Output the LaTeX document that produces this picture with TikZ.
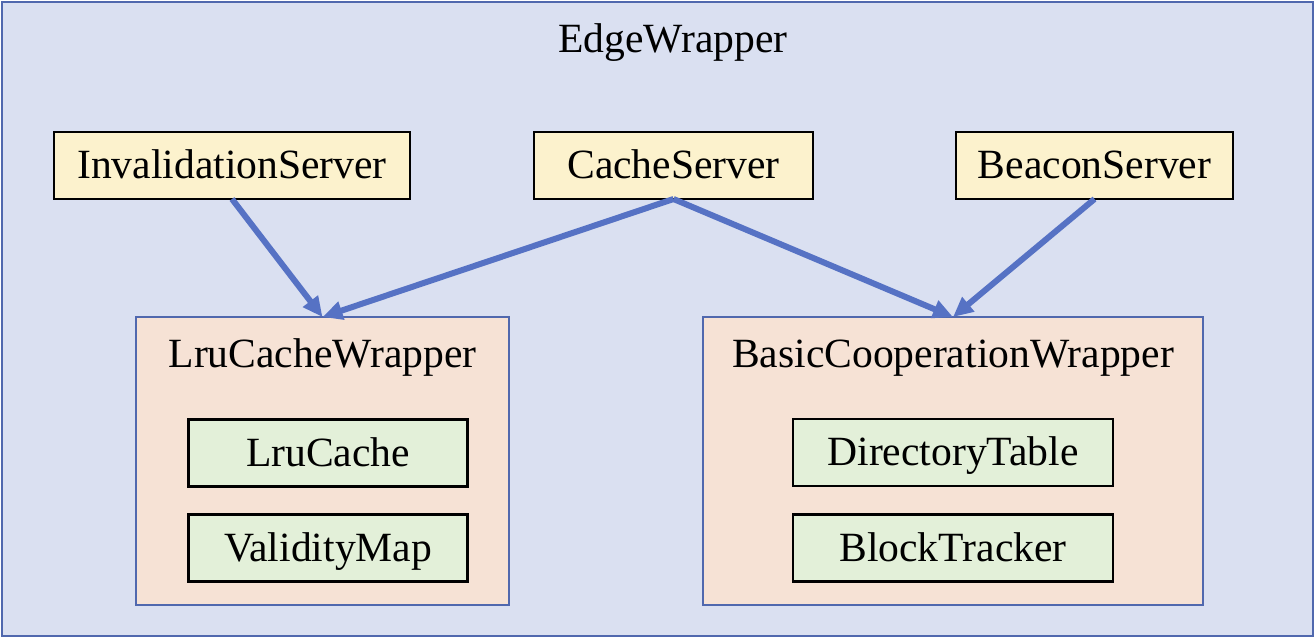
\documentclass[tikz,border=0pt]{standalone}
\usepackage{fontspec}
\setmainfont{Liberation Serif}
\usetikzlibrary{arrows.meta}
\definecolor{edgebg}{HTML}{DAE0F1}
\definecolor{edgeline}{HTML}{5068AE}
\definecolor{servfill}{HTML}{FCF2CD}
\definecolor{wrapfill}{HTML}{F6E2D5}
\definecolor{partfill}{HTML}{E3F0D9}
\definecolor{flowblue}{HTML}{5672C4}

\begin{document}
\begin{tikzpicture}[x=0.5pt,y=-0.5pt,
  txt/.style={font=\fontsize{20.8}{24}\selectfont},
  serv/.style={txt,draw=black,line width=1.4pt,fill=servfill,inner sep=0pt,outer sep=0pt,minimum height=33.5pt,text height=16pt,text depth=3pt},
  wrap/.style={draw=edgeline,line width=0.6pt,fill=wrapfill,inner sep=0pt,outer sep=0pt,minimum height=144pt},
  part/.style={serv,fill=partfill},
  flow/.style={draw=flowblue,line width=3pt,-{Triangle[length=10pt,width=9pt]}}]
\useasboundingbox (0,0) rectangle (1316,639);
\draw[edgeline,line width=1pt,fill=edgebg] (2,2) rectangle (1313,636);%le cadre
\node[txt,anchor=base] (edge) at (673,52) {EdgeWrapper};

%les serveurs
\node[serv,minimum width=178pt] (inv) at (232,165.5) {InvalidationServer};
\node[serv,minimum width=139.5pt] (cache) at (673.5,165.5) {CacheServer};
\node[serv,minimum width=138.5pt] (beacon) at (1094.5,165.5) {BeaconServer};

%les wrappers
\node[wrap,minimum width=186.5pt] (lruw) at (322.5,461) {};
\node[txt,anchor=base] (lruwl) at (322.5,367) {LruCacheWrapper};
\node[wrap,minimum width=250pt] (basicw) at (953,461) {};
\node[txt,anchor=base] (basicwl) at (953,367) {BasicCooperationWrapper};

\node[part,minimum width=139.5pt] (lru) at (328,453) {LruCache};
\node[part,minimum width=139.5pt] (valid) at (328,548) {ValidityMap};
\node[part,minimum width=160pt] (dir) at (953,452.5) {DirectoryTable};
\node[part,minimum width=160pt] (block) at (953,548) {BlockTracker};

%les fleches
\draw[flow] (inv.south) -- (lruw.north);
\draw[flow] (cache.south) -- (lruw.north);
\draw[flow] (cache.south) -- (basicw.north);
\draw[flow] (beacon.south) -- (basicw.north);
\end{tikzpicture}
\end{document}
